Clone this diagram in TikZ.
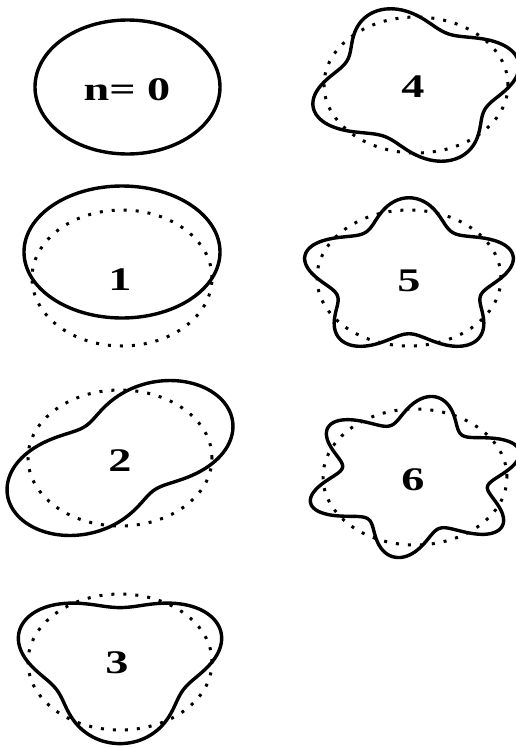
\documentclass[tikz,border=0pt]{standalone}
\usepackage{fontspec}
\setmainfont{Liberation Serif}
\tikzset{
  solidcurve/.style={line width=3.4pt, line join=round},
  dotcurve/.style={line width=3pt, dash pattern=on 3pt off 9pt},
  lbl/.style={font=\fontsize{33}{35}\selectfont\bfseries, inner sep=0pt}
}
% #1 cx, #2 cy, #3 n, #4 amplitude, #5 phase
\newcommand\modecurve[5]{%
  \draw[dotcurve] (#1,#2) ellipse [x radius=92pt, y radius=68pt];
  \draw[solidcurve] plot[domain=0:360, samples=241, variable=\t]
    ({#1+92*(1+#4*cos(#3*(\t-#5)))*cos(\t)}, {#2-68*(1+#4*cos(#3*(\t-#5)))*sin(\t)}) -- cycle;
}
\begin{document}
\begin{tikzpicture}[x=1pt,y=-1pt]
\useasboundingbox (0,0) rectangle (516,747);
% n = 0
\draw[solidcurve] (127.5,87) ellipse [x radius=92.5pt, y radius=67pt];
\node[lbl] (l0) at (127,90) {\scalebox{1.4}[1]{n= 0}};
% n = 1
\draw[dotcurve] (122,278) ellipse [x radius=90pt, y radius=68pt];
\draw[solidcurve] (122,252) ellipse [x radius=98pt, y radius=66pt];
\node[lbl] (l1) at (120,280) {\scalebox{1.4}[1]{1}};
% n = 2
\modecurve{120}{458}{2}{0.4}{40}
\node[lbl] (l2) at (120,461) {\scalebox{1.4}[1]{2}};
% n = 3
\modecurve{120}{662}{3}{0.2}{30}
\node[lbl] (l3) at (117,663) {\scalebox{1.4}[1]{3}};
% n = 4
\modecurve{416}{85}{4}{0.17}{20}
\node[lbl] (l4) at (413,87) {\scalebox{1.4}[1]{4}};
% n = 5
\modecurve{409}{278}{5}{0.18}{90}
\node[lbl] (l5) at (409,281) {\scalebox{1.4}[1]{5}};
% n = 6
\modecurve{415}{477}{6}{0.2}{20}
\node[lbl] (l6) at (413,480) {\scalebox{1.4}[1]{6}};
\end{tikzpicture}
\end{document}
